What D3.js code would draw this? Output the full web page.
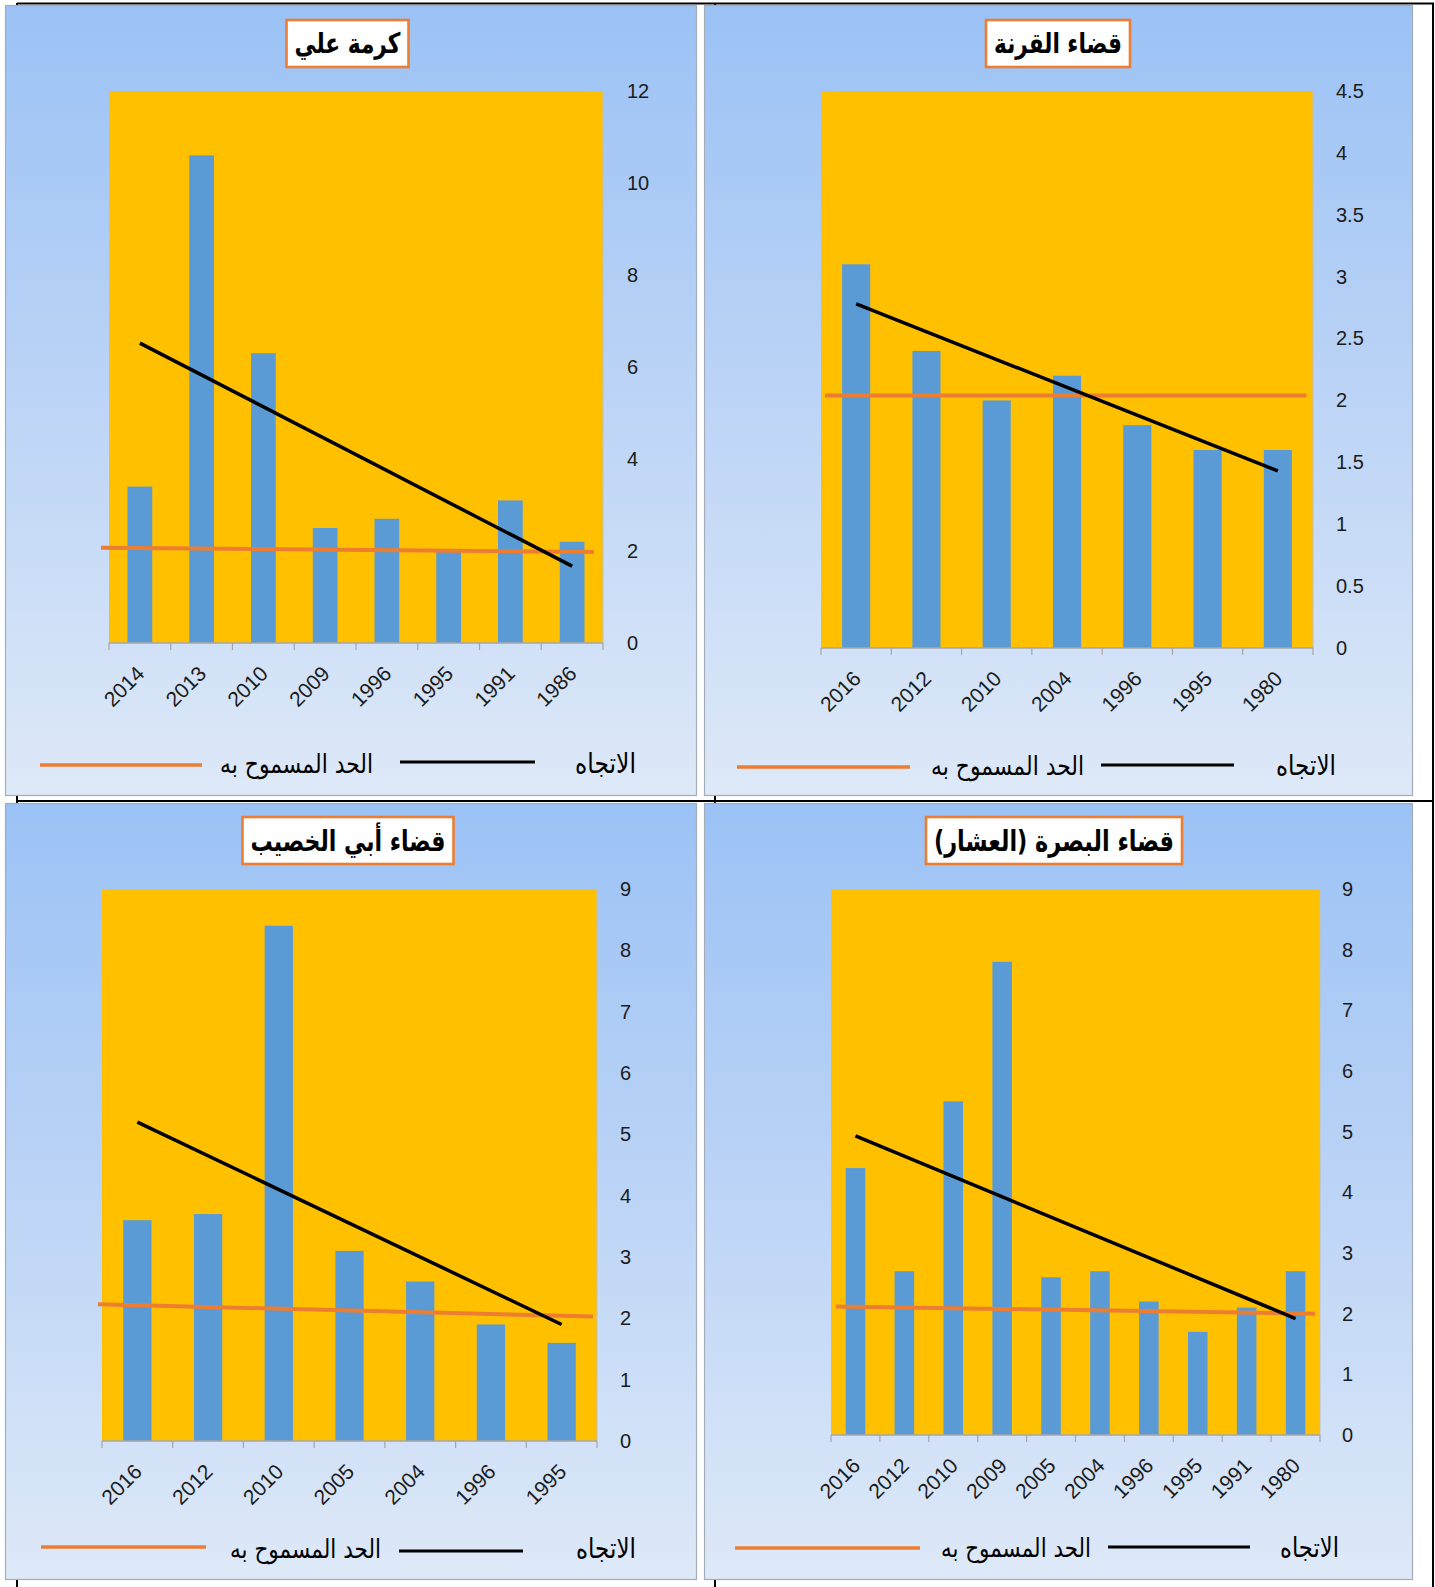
<!DOCTYPE html>
<html><head><meta charset="utf-8">
<script src="https://cdn.jsdelivr.net/npm/d3@7"></script>
<style>body{margin:0;background:#fff}</style>
</head><body>
<svg id="c" width="1435" height="1587"></svg>
<script>
// ---------- DATA ----------
const titles = ["كرمة علي", "قضاء القرنة", "قضاء أبي الخصيب", "قضاء البصرة (العشار)"];
const legendTrend = "الاتجاه";
const legendLimit = "الحد المسموح به";

const years1 = ["2014","2013","2010","2009","1996","1995","1991","1986"];
const values1 = [3.4, 10.6, 6.3, 2.5, 2.7, 2.0, 3.1, 2.2];
const years2 = ["2016","2012","2010","2004","1996","1995","1980"];
const values2 = [3.1, 2.4, 2.0, 2.2, 1.8, 1.6, 1.6];
const years3 = ["2016","2012","2010","2005","2004","1996","1995"];
const values3 = [3.6, 3.7, 8.4, 3.1, 2.6, 1.9, 1.6];
const years4 = ["2016","2012","2010","2009","2005","2004","1996","1995","1991","1980"];
const values4 = [4.4, 2.7, 5.5, 7.8, 2.6, 2.7, 2.2, 1.7, 2.1, 2.7];

// trend line (start, end) and permitted-limit line (start, end) values
const trend1 = [6.52, 1.67], trend2 = [2.78, 1.43], trend3 = [5.2, 1.9], trend4 = [4.93, 1.92];
const limit1 = [2.07, 1.98], limit2 = [2.04, 2.04], limit3 = [2.23, 2.03], limit4 = [2.12, 2.0];

// value-axis tick labels
const ticks1 = [0, 2, 4, 6, 8, 10, 12];
const ticks2 = [0, 0.5, 1, 1.5, 2, 2.5, 3, 3.5, 4, 4.5];
const ticks3 = [0, 1, 2, 3, 4, 5, 6, 7, 8, 9];
const ticks4 = [0, 1, 2, 3, 4, 5, 6, 7, 8, 9];

// ---------- LAYOUT ----------
const layout = [
  {px:5, py:5, pw:691, ph:790, x0:109, x1:603, y0:91, y1:643, ldx:24, limX:[-8,-9],
   tcx:347.5, tcy:43.5, tw:106,
   lo:[40,202,765], lt:[296.5,153,773], lk:[400,535,762], lr:[605.5,61,773]},
  {px:704, py:5, pw:708, ph:790, x0:821, x1:1313, y0:91, y1:648, ldx:23, limX:[4,-6.5],
   tcx:1058, tcy:43.5, tw:128,
   lo:[737,910,767], lt:[1007.5,153,775], lk:[1101,1234,765], lr:[1306,60,775]},
  {px:5, py:803, pw:691, ph:776, x0:102, x1:597, y0:889, y1:1441, ldx:23, limX:[-4,-4],
   tcx:348, tcy:840.5, tw:195,
   lo:[41,206,1547], lt:[305.5,151,1558], lk:[399,523,1551], lr:[606,60,1558]},
  {px:704, py:803, pw:708, ph:776, x0:831, x1:1320, y0:889, y1:1435, ldx:22, limX:[5,-5],
   tcx:1054, tcy:840.5, tw:240,
   lo:[735,920,1548], lt:[1016,150,1557], lk:[1108,1250,1547], lr:[1309.5,59,1557]}
];

const panels = [
  {title:titles[0], cats:years1, vals:values1, trend:trend1, limit:limit1, ticks:ticks1},
  {title:titles[1], cats:years2, vals:values2, trend:trend2, limit:limit2, ticks:ticks2},
  {title:titles[2], cats:years3, vals:values3, trend:trend3, limit:limit3, ticks:ticks3},
  {title:titles[3], cats:years4, vals:values4, trend:trend4, limit:limit4, ticks:ticks4}
];

const ARABIC = "'DejaVu Sans', sans-serif";
const LATIN = "'Liberation Sans', Arial, sans-serif";

const svg = d3.select("#c");
const defs = svg.append("defs");
const gr = defs.append("linearGradient").attr("id","bg").attr("x1",0).attr("y1",0).attr("x2",0).attr("y2",1);
gr.append("stop").attr("offset",0).attr("stop-color","#9BC2F5");
gr.append("stop").attr("offset",0.5).attr("stop-color","#BCD4F6");
gr.append("stop").attr("offset",1).attr("stop-color","#DEE9F8");

// table frame lines
const tbl = svg.append("g").attr("stroke","#000").attr("stroke-width",2);
[[17,3.5,1434,3.5],[17,801,1434,801],[17,3,17,1587],[715,3,715,1587],[1433,3,1433,1587]]
  .forEach(l => tbl.append("line").attr("x1",l[0]).attr("y1",l[1]).attr("x2",l[2]).attr("y2",l[3]));

function fit(textSel, target, base) {
  const w = textSel.node().getComputedTextLength();
  if (w > 0) textSel.attr("font-size", base * target / w);
}

panels.forEach((p, i) => {
  const L = layout[i];
  const g = svg.append("g");
  g.append("rect").attr("x",L.px+0.5).attr("y",L.py+0.5).attr("width",L.pw).attr("height",L.ph)
    .attr("fill","url(#bg)").attr("stroke","#A4ACB8").attr("stroke-width",1.2);

  const y = d3.scaleLinear().domain([0, d3.max(p.ticks)]).range([L.y1, L.y0]);
  const x = d3.scaleBand().domain(p.cats).range([L.x0, L.x1]).paddingInner(0.6).paddingOuter(0.3);

  g.append("rect").attr("x",L.x0).attr("y",L.y0).attr("width",L.x1-L.x0).attr("height",L.y1-L.y0)
    .attr("fill","#FFC000");

  g.selectAll("rect.bar").data(p.vals).join("rect").attr("class","bar")
    .attr("x",(d,j)=>x(p.cats[j])).attr("width",x.bandwidth())
    .attr("y",d=>y(d)).attr("height",d=>y(0)-y(d)).attr("fill","#5B9BD5");

  // value axis line (right)
  g.append("line").attr("x1",L.x1).attr("x2",L.x1).attr("y1",L.y0).attr("y2",L.y1)
    .attr("stroke","#BFBFBF").attr("stroke-width",1);

  // category axis line + boundary ticks
  g.append("line").attr("x1",L.x0).attr("x2",L.x1).attr("y1",L.y1).attr("y2",L.y1)
    .attr("stroke","#A6A6A6").attr("stroke-width",1.5);
  const n = p.cats.length, step = (L.x1-L.x0)/n;
  d3.range(n+1).forEach(k => {
    g.append("line").attr("x1",L.x0+k*step).attr("x2",L.x0+k*step).attr("y1",L.y1).attr("y2",L.y1+7)
      .attr("stroke","#A6A6A6").attr("stroke-width",1.2);
  });

  const xa = g.append("g").attr("transform",`translate(0,${L.y1})`)
    .call(d3.axisBottom(x).tickSize(0).tickPadding(0));
  xa.select(".domain").remove();
  xa.selectAll("text").attr("x",0).attr("y",0).attr("dy",0)
    .attr("transform","translate(6,32) rotate(-45)").attr("text-anchor","end")
    .attr("font-family",LATIN).attr("font-size",21).attr("fill","#1b1b1b");

  const ya = g.append("g").attr("transform",`translate(${L.x1+L.ldx},0)`)
    .call(d3.axisRight(y).tickValues(p.ticks).tickSize(0).tickPadding(0).tickFormat(d3.format("~g")));
  ya.select(".domain").remove();
  ya.selectAll("text").attr("font-family",LATIN).attr("font-size",20).attr("fill","#1b1b1b");

  // permitted limit line
  g.append("line").attr("x1",L.x0+L.limX[0]).attr("x2",L.x1+L.limX[1])
    .attr("y1",y(p.limit[0])).attr("y2",y(p.limit[1]))
    .attr("stroke","#ED7D31").attr("stroke-width",4);
  // trend line
  const cx0 = x(p.cats[0]) + x.bandwidth()/2, cx1 = x(p.cats[n-1]) + x.bandwidth()/2;
  g.append("line").attr("x1",cx0).attr("x2",cx1).attr("y1",y(p.trend[0])).attr("y2",y(p.trend[1]))
    .attr("stroke","#000").attr("stroke-width",3.5);

  // title
  const box = g.append("rect");
  const tt = g.append("text").attr("x",0).attr("y",0).attr("text-anchor","middle")
    .attr("dominant-baseline","central").attr("direction","rtl")
    .attr("transform",`translate(${L.tcx},${L.tcy}) scale(1,1.3)`)
    .attr("font-family",ARABIC).attr("font-weight","bold").attr("font-size",26).attr("fill","#000")
    .text(p.title);
  fit(tt, L.tw, 26);
  box.attr("x",L.tcx-(L.tw+16)/2).attr("y",L.tcy-23.5).attr("width",L.tw+16).attr("height",47)
    .attr("fill","#fff").attr("stroke","#ED7D31").attr("stroke-width",2.6);

  // legend
  g.append("line").attr("x1",L.lo[0]).attr("x2",L.lo[1]).attr("y1",L.lo[2]).attr("y2",L.lo[2])
    .attr("stroke","#ED7D31").attr("stroke-width",3.5);
  g.append("line").attr("x1",L.lk[0]).attr("x2",L.lk[1]).attr("y1",L.lk[2]).attr("y2",L.lk[2])
    .attr("stroke","#000").attr("stroke-width",3);
  const t1 = g.append("text").attr("x",0).attr("y",0).attr("text-anchor","middle")
    .attr("transform",`translate(${L.lt[0]},${L.lt[2]}) scale(1,1.2)`)
    .attr("direction","rtl").attr("font-family",ARABIC).attr("font-size",20).attr("fill","#000")
    .text(legendLimit);
  fit(t1, L.lt[1], 20);
  const t2 = g.append("text").attr("x",0).attr("y",0).attr("text-anchor","middle")
    .attr("transform",`translate(${L.lr[0]},${L.lr[2]}) scale(1,1.2)`)
    .attr("direction","rtl").attr("font-family",ARABIC).attr("font-size",20).attr("fill","#000")
    .text(legendTrend);
  fit(t2, L.lr[1], 20);
});
</script>
</body></html>
